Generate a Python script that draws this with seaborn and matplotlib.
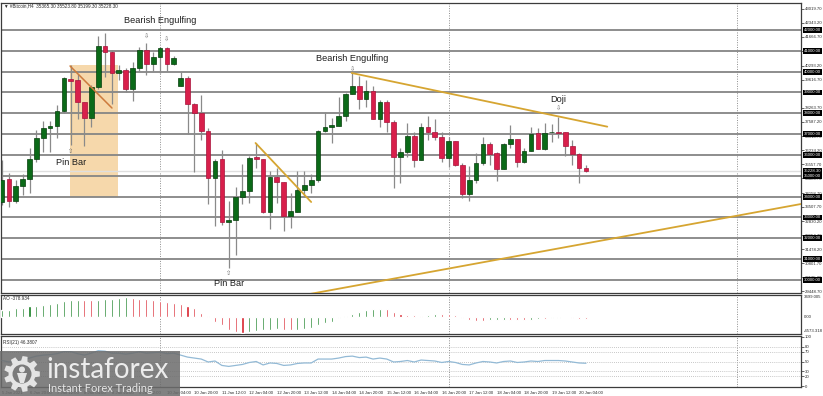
import numpy as np
import matplotlib
matplotlib.use("Agg")
import matplotlib.pyplot as plt
import matplotlib.transforms as mtransforms
from matplotlib.patches import Rectangle, Polygon, Circle
import seaborn as sns

sns.set_style("white")
plt.rcParams["font.family"] = ["Liberation Sans", "DejaVu Sans"]

# ---------------- data ----------------
bar_index = list(range(86))
opens = [33744, 34848, 33792, 34512, 34848, 35808, 36816, 37296, 37392, 38112,
         39648, 39600, 38544, 37776, 39264, 41232, 40944, 39936, 40080, 39168,
         40176, 41040, 40368, 40704, 41136, 40368, 39312, 39696, 38448, 38016,
         37152, 34896, 35808, 32784, 32880, 33984, 34272, 35904, 35808, 33264,
         34944, 34704, 33072, 33264, 34320, 34560, 34800, 37152, 37344, 37392,
         37872, 38928, 39312, 38688, 39072, 37728, 38544, 37584, 35904, 36144,
         36912, 35760, 37344, 37104, 36864, 35856, 36672, 35520, 34128, 34800,
         35616, 36528, 36096, 35328, 36528, 36768, 35664, 36192, 37056, 36288,
         37080, 37100, 37104, 36432, 36048, 35365.3]
highs = [35760, 35136, 34800, 35088, 36336, 37200, 37632, 37632, 38400, 39744,
         40320, 39888, 38544, 39360, 41712, 41856, 41040, 40320, 40176, 40464,
         41184, 41376, 40944, 41184, 41184, 40752, 39984, 39792, 38496, 38880,
         37296, 35808, 36240, 33792, 34464, 35568, 35952, 36576, 35808, 35232,
         35376, 34704, 34176, 35232, 35232, 35088, 37200, 38064, 37776, 38784,
         38976, 39936, 39792, 39600, 39312, 38640, 38640, 37680, 36336, 37536,
         37104, 37536, 37872, 37728, 37104, 36864, 36672, 35616, 35472, 36096,
         36864, 36624, 36144, 36576, 37440, 36768, 36336, 37344, 37296, 37536,
         37488, 37824, 37104, 36720, 36096, 35523.8]
lows = [33600, 33504, 33696, 34080, 34176, 35664, 36144, 36144, 36816, 38016,
        36480, 37728, 36432, 37344, 39168, 39744, 38448, 39600, 39024, 38592,
        40032, 39840, 40032, 39936, 40032, 40320, 39312, 37008, 35184, 36720,
        33648, 32592, 32640, 30576, 31200, 33648, 33696, 35376, 33216, 32448,
        33696, 32352, 32496, 33264, 33984, 34176, 34704, 37104, 36576, 37392,
        37632, 38928, 38208, 38304, 37728, 37344, 37104, 34416, 34656, 35904,
        35424, 35760, 36720, 36720, 35664, 35424, 35472, 33936, 33792, 34656,
        35520, 35520, 34752, 35328, 36336, 35424, 35616, 36192, 36288, 36240,
        36624, 36816, 35952, 35520, 34656, 35199.3]
closes = [34800, 33792, 34512, 34848, 35808, 36816, 37296, 37392, 38112, 39696,
          39552, 38544, 37776, 39264, 41232, 40944, 39936, 40080, 39168, 40176,
          41040, 40368, 40704, 41136, 40368, 40656, 39696, 38448, 38016, 37152,
          34896, 35712, 32784, 32880, 33984, 34272, 35856, 35808, 33264, 34944,
          34704, 33072, 33312, 34320, 34560, 34800, 37152, 37344, 37440, 37872,
          38928, 39312, 38688, 39072, 37728, 38544, 37584, 35904, 36144, 36912,
          35760, 37344, 37104, 36864, 35856, 36672, 35520, 34128, 34800, 35616,
          36528, 36048, 35328, 36528, 36768, 35664, 36192, 37008, 36288, 37056,
          37090, 37080, 36432, 36048, 35365.3, 35228.3]
ao_values = [1070, 1170, 1390, 1490, 1710, 1810, 1920, 2030, 2240, 2560,
             2670, 2770, 2720, 2640, 2720, 2830, 2930, 3090, 3200, 3090,
             2930, 2830, 2720, 2610, 2450, 2240, 2030, 1710, 1490, 640,
             110, -800, -1280, -2030, -2400, -2560, -2400, -2240, -2130, -2030,
             -1970, -2080, -2130, -2030, -1920, -1710, -1280, -960, -750, -160,
             210, 530, 800, 1070, 1280, 1330, 1280, 850, 530, 370,
             240, 110, 320, 480, 460, 400, 240, -130, -400, -560,
             -580, -530, -480, -400, -420, -450, -480, -400, -320, -350,
             -110, -80, -60, -80, -240, -320]
rsi_values = [52, 49, 51, 53, 57, 61, 63, 64, 66, 70,
              70, 66, 63, 67, 72, 71, 67, 67, 65, 67,
              70, 67, 68, 69, 66, 67, 63, 59, 57, 55,
              49, 51, 42, 40, 42, 44, 48, 50, 43, 47,
              46, 42, 43, 46, 47, 47, 55, 55, 55, 57,
              60, 61, 58, 59, 55, 57, 55, 49, 50, 52,
              49, 53, 52, 51, 48, 50, 48, 44, 43, 47,
              50, 49, 47, 50, 51, 48, 49, 51, 50, 52,
              52, 52, 51, 49, 47, 46.38]

x_tick_index = [0, 4, 8, 12, 16, 20, 24, 28, 32, 36, 40, 44, 48, 52, 56, 60,
                64, 68, 72, 76, 80, 84]
x_tick_labels = ["5 Jan 2021", "6 Jan 20:00", "7 Jan 12:00", "8 Jan 04:00",
                 "8 Jan 20:00", "9 Jan 12:00", "10 Jan 04:00", "10 Jan 20:00",
                 "11 Jan 12:00", "12 Jan 04:00", "12 Jan 20:00", "13 Jan 12:00",
                 "14 Jan 04:00", "14 Jan 20:00", "15 Jan 12:00", "16 Jan 04:00",
                 "16 Jan 20:00", "17 Jan 12:00", "18 Jan 04:00", "18 Jan 20:00",
                 "19 Jan 12:00", "20 Jan 04:00"]
price_ticks = [43019.70, 42343.20, 41666.70, 40990.20, 40293.20, 39616.70,
               38263.70, 37587.20, 36910.70, 36234.20, 35557.70, 34880.70,
               34158.70, 33507.70, 32830.20, 32154.70, 31478.20, 30801.70,
               30125.20, 29448.70]
level_lines = [30000, 31000, 32000, 33000, 34000, 35000, 36000, 37000, 38000,
               39000, 40000, 41000, 42000]
last_price = 35228.30
separator_index = [23, 65, 107]
rsi_ticks = [0, 20, 30, 50, 70, 80, 100]
rsi_levels = [20, 30, 50, 70, 80]

# drawings (bar index, price)
rect_zone = (9.9, 33984, 16.9, 40320)
gold_lines = [((50.9, 39936), (88.1, 37360)),
              ((44.8, 29328), (116.3, 33648)),
              ((36.9, 36576), (45.0, 33744))]
brown_line = ((9.9, 40272), (16.0, 38256))
pattern_labels = [(23.0, 42432, "Bearish Engulfing"),
                  (51.0, 40608, "Bearish Engulfing"),
                  (81.0, 38640, "Doji"),
                  (10.0, 35616, "Pin Bar"),
                  (33.0, 29808, "Pin Bar")]
down_marks = [(21, 41712), (24, 41568), (51, 40128), (81, 38256)]
up_marks = [(10, 36144), (33, 30288)]

# ---------------- layout ----------------
W, H = 823, 396
fig = plt.figure(figsize=(W / 100, H / 100), dpi=100)
fig.patch.set_facecolor("white")


def panel(x0, y0, x1, y1):
    return fig.add_axes([x0 / W, 1 - y1 / H, (x1 - x0) / W, (y1 - y0) / H])


ax = panel(1, 3, 801, 293)
ax_ao = panel(1, 295, 801, 334)
ax_rsi = panel(1, 336, 801, 387)

XMIN, XMAX = -0.15, 116.3
TXT = "#2a2a2a"
FS = 3.05
for a in (ax, ax_ao, ax_rsi):
    a.set_xlim(XMIN, XMAX)
    a.set_facecolor("white")
    for s in a.spines.values():
        s.set_color("#3c3c3c")
        s.set_linewidth(0.9)
    for sx in separator_index:
        a.axvline(sx, color="#8c8c8c", lw=0.7, ls=(0, (1, 1.5)), zorder=1)

# ---------------- main price panel ----------------
ax.set_ylim(29376, 43296)
for lv in level_lines:
    ax.axhline(lv, color="#858585", lw=1.3, zorder=1.5)
ax.axhline(last_price, color="#dedede", lw=1.0, zorder=1.2)

x0, y0, x1, y1 = rect_zone
ax.add_patch(Rectangle((x0, y0), x1 - x0, y1 - y0, facecolor="#f6d8ab",
                       edgecolor="none", zorder=1.0))

for (p0, p1) in gold_lines:
    ax.plot([p0[0], p1[0]], [p0[1], p1[1]], color="#d6a531", lw=1.3, zorder=4)
ax.plot([brown_line[0][0], brown_line[1][0]], [brown_line[0][1], brown_line[1][1]],
        color="#cc7a3c", lw=1.1, zorder=4)

o = np.array(opens, float)
c = np.array(closes, float)
hi = np.array(highs, float)
lo = np.array(lows, float)
xi = np.array(bar_index, float)
up = c >= o
ax.vlines(xi, lo, hi, color="#8a8a8a", lw=0.9, zorder=2)
body = np.where(np.abs(c - o) < 40, np.sign(c - o + 1e-9) * 40, c - o)
ax.bar(xi[up], body[up], bottom=o[up], width=0.68, color="#0b6a18",
       edgecolor="#063d0c", linewidth=0.5, zorder=3)
ax.bar(xi[~up], body[~up], bottom=o[~up], width=0.68, color="#d81f4b",
       edgecolor="#a8123a", linewidth=0.5, zorder=3)

for (bx, py, s) in pattern_labels:
    ax.text(bx, py, s, ha="center", va="center", fontsize=6.6, color="#1e1e1e",
            zorder=6)
for (bx, py) in down_marks:
    ax.text(bx, py, "\u21e9", ha="center", va="center", fontsize=4.5,
            color="#6a6a6a", family="DejaVu Sans", zorder=6)
for (bx, py) in up_marks:
    ax.text(bx, py, "\u21e7", ha="center", va="center", fontsize=4.5,
            color="#6a6a6a", family="DejaVu Sans", zorder=6)

ax.yaxis.tick_right()
ax.set_yticks(price_ticks)
ax.set_yticklabels([f"{v:.2f}" for v in price_ticks], fontsize=FS, color=TXT)
ax.tick_params(axis="y", length=1.8, width=0.5, pad=1.0, colors=TXT)
ax.set_xticks([])

trans = mtransforms.blended_transform_factory(ax.transAxes, ax.transData)
for lv in level_lines + [last_price]:
    ax.text(1.0035, lv, f"{lv:.2f}", transform=trans, fontsize=FS, color="white",
            ha="left", va="center", clip_on=False, zorder=10,
            bbox=dict(boxstyle="square,pad=0.2", facecolor="black", edgecolor="none"))

fig.text(4 / W, 1 - 6 / H, "\u25bc #Bitcoin,H4  35365.30 35523.80 35199.30 35228.30",
         fontsize=3.3, color=TXT, va="center", ha="left")

# ---------------- AO panel ----------------
ao = np.array(ao_values, float)
ao_prev = np.concatenate([[ao[0] - 1], ao[:-1]])
ao_colors = np.where(ao >= ao_prev, "#0e7a1c", "#d81f2a")
ax_ao.bar(bar_index, ao_values, width=0.3, color=ao_colors, zorder=3)
ax_ao.set_ylim(-2703, 3499)
ax_ao.set_xticks([])
ax_ao.set_yticks([])
ax_ao.text(0.003, 0.9, "AO -378.934", transform=ax_ao.transAxes, fontsize=3.3,
           color=TXT, va="center")
for yf, s in [(0.95, "3499.005"), (0.436, "0.00"), (0.077, "-4573.318")]:
    ax_ao.text(1.003, yf, s, transform=ax_ao.transAxes, fontsize=FS, color=TXT,
               va="center", ha="left", clip_on=False)

# ---------------- RSI panel ----------------
sns.lineplot(x=bar_index, y=rsi_values, ax=ax_rsi, color="#93bad6", lw=0.9, zorder=3)
ax_rsi.set_ylim(-2, 102)
for lv in rsi_levels:
    ax_rsi.axhline(lv, color="#b5b5b5", lw=0.6, ls=(0, (1, 1.5)), zorder=1)
ax_rsi.yaxis.tick_right()
ax_rsi.set_yticks(rsi_ticks)
ax_rsi.set_yticklabels([str(v) for v in rsi_ticks], fontsize=FS, color=TXT)
ax_rsi.tick_params(axis="y", length=1.8, width=0.5, pad=1.0, colors=TXT)
ax_rsi.set_xticks(x_tick_index)
ax_rsi.set_xticklabels(x_tick_labels, fontsize=FS, color=TXT, ha="left")
ax_rsi.tick_params(axis="x", length=1.8, width=0.5, pad=1, colors=TXT)
ax_rsi.set_xlabel("")
ax_rsi.set_ylabel("")
ax_rsi.text(0.003, 0.88, "RSI(21) 46.3807", transform=ax_rsi.transAxes,
            fontsize=3.3, color=TXT, va="center")

# ---------------- watermark ----------------
wm = panel(0, 351, 180, 396)
wm.set_xlim(0, 180)
wm.set_ylim(45, 0)
wm.axis("off")
wm.add_patch(Rectangle((0, 0), 180, 45, facecolor="#6c6c6c", alpha=0.86,
                       edgecolor="none"))
gc = (22, 23)
pts = []
for k in range(9):
    a0 = 2 * np.pi * k / 9
    for da, r in [(-0.24, 13.5), (-0.14, 18), (0.14, 18), (0.24, 13.5)]:
        pts.append((gc[0] + r * np.cos(a0 + da), gc[1] + r * np.sin(a0 + da)))
wm.add_patch(Polygon(pts, closed=True, facecolor="#e4e4e4", edgecolor="none"))
wm.add_patch(Circle(gc, 9.5, facecolor="#7a7a7a", edgecolor="none"))
wm.add_patch(Circle((gc[0], gc[1] - 4.5), 3.0, facecolor="#e4e4e4", edgecolor="none"))
wm.add_patch(Polygon([(gc[0] - 5, gc[1] - 1), (gc[0] + 5, gc[1] - 1),
                      (gc[0] + 2, gc[1] + 9), (gc[0] - 2, gc[1] + 9)],
                     closed=True, facecolor="#e4e4e4", edgecolor="none"))
wm.text(46, 27.5, "instaforex", fontsize=20, color="#ececec", ha="left",
        va="baseline", family=["Lato", "DejaVu Sans"])
wm.text(48, 40.5, "Instant Forex Trading", fontsize=8, color="#e6e6e6",
        ha="left", va="baseline", family=["Lato", "DejaVu Sans"])

fig.savefig("out.png", dpi=100, facecolor="white")
